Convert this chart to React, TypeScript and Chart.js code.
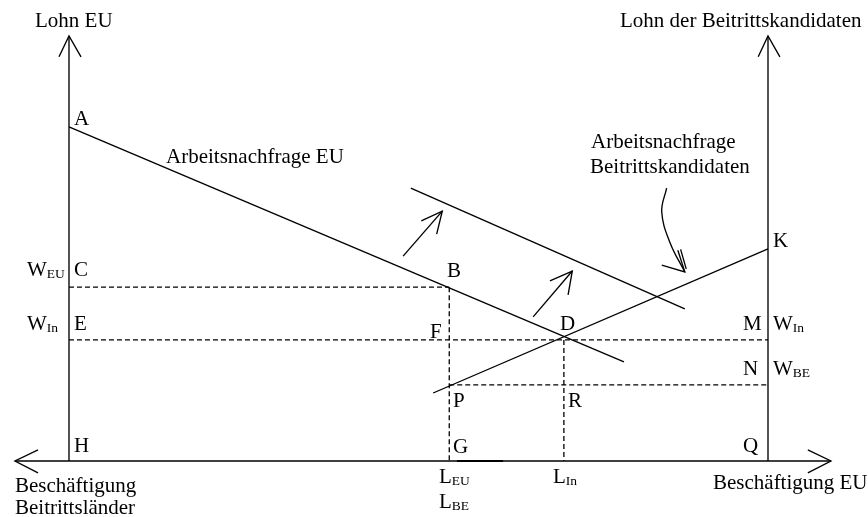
import React, { useEffect, useRef } from "react";
import { Chart, registerables } from "chart.js";

Chart.register(...registerables);

// Economic coordinates: x = employment (0 at left axis, 100 at right axis), y = wage (0 at bottom axis)
const X_RANGE = [-9.871, 114.306];
const Y_RANGE = [-13.176, 108.47];

const L_EU = 54.4;
const L_IN = 70.8;
const W_EU = 40.9;
const W_IN = 28.5;
const W_BE = 17.9;

// Solid curves
const demandEU = [[0, 78.6], [79.4, 23.3]];
const demandShifted = [[48.9, 64.2], [88.1, 35.8]];
const demandCandidates = [[52.1, 16.0], [100, 49.9]];

// Axes
const axisLeft = [[0, 0], [0, 100]];
const axisRight = [[100, 0], [100, 100]];
const axisBottom = [[-7.73, 0], [109.0, 0]];
const axisBottomThick = [[55.5, 0], [62.1, 0]];
const headLeftTop = [[-1.43, 95.1], [0, 100], [1.72, 95.1]];
const headRightTop = [[98.6, 95.1], [100, 100], [101.7, 95.1]];
const headBottomLeft = [[-4.43, 2.6], [-7.73, 0], [-4.43, -2.8]];
const headBottomRight = [[105.7, 2.6], [109.0, 0], [105.7, -2.8]];

// Dashed guide lines
const dashWEU = [[0, W_EU], [L_EU, W_EU]];
const dashWIn = [[0, W_IN], [100, W_IN]];
const dashWBE = [[L_EU, W_BE], [100, W_BE]];
const dashLEU = [[L_EU, W_EU], [L_EU, 0]];
const dashLIn = [[L_IN, W_IN], [L_IN, 0]];

// Shift arrows
const shift1 = [[47.8, 48.2], [53.4, 58.8]];
const shift1Head = [[50.4, 56.5], [53.4, 58.8], [52.6, 53.4]];
const shift2 = [[66.4, 33.9], [72.0, 44.7]];
const shift2Head = [[68.8, 42.4], [72.0, 44.7], [71.4, 39.1]];
const curvedArrow = [[85.5, 64.2], [84.8, 58.6], [86.0, 51.3], [88.1, 44.5]];
const curvedHead = [[84.8, 46.1], [88.1, 44.5], [87.1, 49.6]];
const curvedHead2 = [[87.5, 49.8], [88.3, 45.2]];

// Text labels: [text, subscript, x, y]
const labels: [string, string, number, number][] = [
  ["Lohn EU", "", -4.86, 102.1],
  ["Lohn der Beitrittskandidaten", "", 78.83, 102.1],
  ["A", "", 0.72, 79.06],
  ["Arbeitsnachfrage EU", "", 13.88, 70.12],
  ["Arbeitsnachfrage", "", 74.68, 73.65],
  ["Beitrittskandidaten", "", 74.54, 67.76],
  ["K", "", 100.72, 50.35],
  ["W", "EU", -6.01, 43.53],
  ["C", "", 0.72, 43.53],
  ["W", "In", -6.01, 30.82],
  ["E", "", 0.72, 30.82],
  ["H", "", 0.72, 2.12],
  ["Beschäftigung", "", -7.73, -7.29],
  ["Beitrittsländer", "", -7.73, -12.47],
  ["B", "", 54.08, 43.29],
  ["F", "", 51.65, 28.94],
  ["D", "", 70.24, 30.82],
  ["P", "", 54.94, 12.71],
  ["R", "", 71.39, 12.71],
  ["G", "", 54.94, 1.88],
  ["L", "EU", 52.93, -5.18],
  ["L", "BE", 52.93, -11.06],
  ["L", "In", 69.24, -5.18],
  ["M", "", 96.42, 30.82],
  ["W", "In", 100.72, 30.82],
  ["N", "", 96.42, 20.24],
  ["W", "BE", 100.72, 20.24],
  ["Q", "", 96.42, 2.12],
  ["Beschäftigung EU", "", 92.13, -6.59],
];

const FONT = '"Liberation Serif", "Times New Roman", serif';

const toPts = (arr: number[][]) => arr.map(([x, y]) => ({ x, y }));

const solid = (arr: number[][], width = 1.35, tension = 0) => ({
  data: toPts(arr),
  showLine: true,
  borderColor: "#000",
  borderWidth: width,
  pointRadius: 0,
  tension,
  fill: false,
});

const dashed = (arr: number[][]) => ({
  ...solid(arr, 1.3),
  borderDash: [5, 3],
});

const textPlugin = {
  id: "diagramText",
  afterDatasetsDraw(chart: any) {
    const { ctx, scales } = chart;
    const xs = scales.x;
    const ys = scales.y;
    ctx.save();
    ctx.fillStyle = "#000";
    ctx.textBaseline = "alphabetic";
    ctx.textAlign = "left";
    for (const [t, sub, ux, uy] of labels) {
      const px = xs.getPixelForValue(ux);
      const py = ys.getPixelForValue(uy);
      ctx.font = `21px ${FONT}`;
      ctx.fillText(t, px, py);
      if (sub) {
        const w = ctx.measureText(t).width;
        ctx.font = `13.5px ${FONT}`;
        ctx.fillText(sub, px + w, py + 2);
      }
    }
    ctx.restore();
  },
};

export default function App() {
  const ref = useRef<HTMLCanvasElement | null>(null);

  useEffect(() => {
    if (!ref.current) return;
    const chart = new Chart(ref.current, {
      type: "scatter",
      data: {
        datasets: [
          solid(axisLeft),
          solid(axisRight),
          solid(axisBottom),
          solid(axisBottomThick, 1.8),
          solid(headLeftTop),
          solid(headRightTop),
          solid(headBottomLeft),
          solid(headBottomRight),
          solid(demandEU),
          solid(demandShifted),
          solid(demandCandidates),
          dashed(dashWEU),
          dashed(dashWIn),
          dashed(dashWBE),
          dashed(dashLEU),
          dashed(dashLIn),
          solid(shift1),
          solid(shift1Head),
          solid(shift2),
          solid(shift2Head),
          solid(curvedArrow, 1.35, 0.4),
          solid(curvedHead),
          solid(curvedHead2),
        ] as any,
      },
      options: {
        animation: false,
        responsive: false,
        events: [],
        layout: { padding: 0 },
        plugins: {
          legend: { display: false },
          tooltip: { enabled: false },
          title: { display: false },
        },
        scales: {
          x: { type: "linear", display: false, min: X_RANGE[0], max: X_RANGE[1] },
          y: { type: "linear", display: false, min: Y_RANGE[0], max: Y_RANGE[1] },
        },
      },
      plugins: [textPlugin],
    });
    return () => chart.destroy();
  }, []);

  return (
    <div style={{ position: "absolute", left: 0, top: 0, width: 868, height: 517, background: "#fff" }}>
      <canvas ref={ref} width={868} height={517} style={{ display: "block", width: 868, height: 517 }} />
    </div>
  );
}
